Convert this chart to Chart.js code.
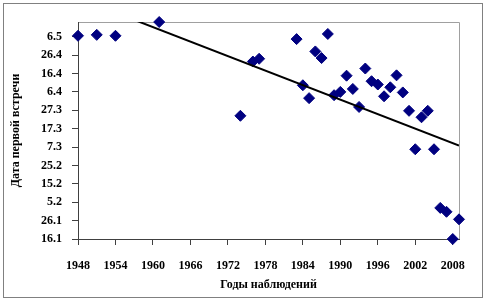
<!DOCTYPE html>
<html>
<head>
<meta charset="utf-8">
<script src="https://cdn.jsdelivr.net/npm/chart.js@4"></script>
<style>
  html, body { margin: 0; padding: 0; background: #ffffff; }
  #wrap { width: 489px; height: 302px; position: relative; }
</style>
</head>
<body>
<div id="wrap"><canvas id="c" width="489" height="302"></canvas></div>
<script>
// ---- data ----
const years = [1948, 1951, 1954, 1961, 1974, 1976, 1977, 1983, 1984, 1985, 1986, 1987, 1988, 1989, 1990, 1991, 1992, 1993, 1994, 1995, 1996, 1997, 1998, 1999, 2000, 2001, 2002, 2003, 2004, 2005, 2006, 2007, 2008, 2009];
// day of year of the first sighting
const firstDay = [126.5, 127, 126.5, 134, 83, 112.5, 114, 124.7, 99.6, 92.6, 118, 114.4, 127.5, 94.2, 96, 104.8, 97.6, 87.8, 108.7, 101.8, 100, 93.6, 98.5, 105, 95.7, 85.7, 64.8, 82.2, 85.7, 64.8, 32.9, 30.8, 16, 26.7];
// trend line end points (year, day of year)
const trendYears = [1948, 2009];
const trendDays = [147.0, 66.8];
// y tick values (day of year) and their date labels
const yTickValues = [16, 26, 36, 46, 56, 66, 76, 86, 96, 106, 116, 126];
const yTickLabels = ["16.1", "26.1", "5.2", "15.2", "25.2", "7.3", "17.3", "27.3", "6.4", "16.4", "26.4", "6.5"];
const xTickValues = [1948, 1954, 1960, 1966, 1972, 1978, 1984, 1990, 1996, 2002, 2008];

const points = years.map((y, i) => ({ x: y, y: firstDay[i] }));
const trend = trendYears.map((y, i) => ({ x: y, y: trendDays[i] }));

const frame = {
  id: 'frame',
  beforeDraw(chart) {
    const ctx = chart.ctx;
    ctx.save();
    ctx.strokeStyle = '#808080';
    ctx.lineWidth = 1;
    ctx.strokeRect(3.5, 3.5, 479, 294);
    const a = chart.chartArea;
    ctx.strokeStyle = '#a0a0a0';
    ctx.beginPath();
    ctx.moveTo(a.left, a.top + 0.5);
    ctx.lineTo(a.right + 0.5, a.top + 0.5);
    ctx.lineTo(a.right + 0.5, a.bottom);
    ctx.stroke();
    ctx.restore();
  }
};

const font = { family: '"Liberation Serif", "Times New Roman", serif', size: 12, weight: 'bold' };

new Chart(document.getElementById('c'), {
  type: 'scatter',
  data: {
    datasets: [
      {
        type: 'line',
        data: trend,
        borderColor: '#000000',
        borderWidth: 2,
        pointRadius: 0,
        fill: false,
        clip: 0,
        order: 0
      },
      {
        data: points,
        pointStyle: 'rectRot',
        pointRadius: 5.5,
        pointBackgroundColor: '#000080',
        pointBorderColor: '#000080',
        pointBorderWidth: 1,
        clip: false,
        order: 1
      }
    ]
  },
  options: {
    responsive: false,
    animation: false,
    devicePixelRatio: 1,
    layout: { padding: { top: 22, right: 30, left: 0, bottom: 0 } },
    plugins: { legend: { display: false }, tooltip: { enabled: false } },
    scales: {
      x: {
        type: 'linear',
        min: 1948,
        max: 2009,
        afterBuildTicks(scale) { scale.ticks = xTickValues.map(v => ({ value: v })); },
        afterFit(scale) { scale.height = 63; },
        grid: { drawOnChartArea: false, drawTicks: true, tickLength: 6, color: '#404040' },
        border: { color: '#404040', width: 1 },
        ticks: { font: font, color: '#000000', padding: 14, autoSkip: false, maxRotation: 0, callback: v => String(v) },
        title: { display: true, text: 'Годы наблюдений', font: font, color: '#000000', padding: { top: 0, bottom: 10 } }
      },
      y: {
        type: 'linear',
        min: 16,
        max: 134,
        afterBuildTicks(scale) { scale.ticks = yTickValues.map(v => ({ value: v })); },
        afterFit(scale) { scale.width = 78; },
        grid: { drawOnChartArea: false, drawTicks: true, tickLength: 6, color: '#404040' },
        border: { color: '#404040', width: 1 },
        ticks: {
          font: font, color: '#000000', padding: 10, autoSkip: false,
          callback: v => { const i = yTickValues.indexOf(v); return i >= 0 ? yTickLabels[i] : ''; }
        },
        title: { display: true, text: 'Дата первой встречи', font: font, color: '#000000', padding: { top: 9, bottom: 0 } }
      }
    }
  },
  plugins: [frame]
});
</script>
</body>
</html>
